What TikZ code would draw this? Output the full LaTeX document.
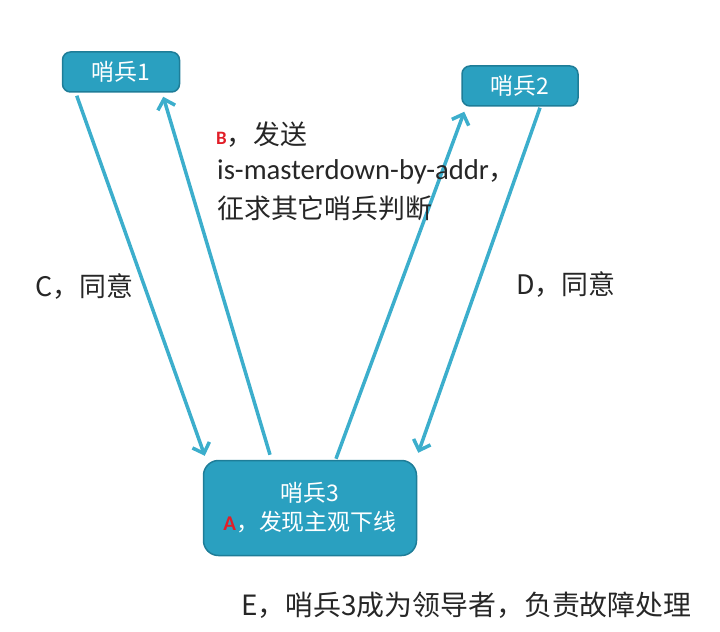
\documentclass[tikz,border=0pt]{standalone}
\usepackage{fontspec}
\setmainfont{Noto Sans CJK SC}
\newfontfamily\latfont{Carlito}
\usetikzlibrary{arrows.meta}

\definecolor{boxfill}{RGB}{42,160,192}
\definecolor{boxline}{RGB}{30,125,152}
\definecolor{linkcol}{RGB}{60,174,204}
\definecolor{mark}{RGB}{225,30,40}
\newcommand{\redmark}[2]{{\latfont\bfseries\fontsize{#2}{#2}\selectfont\color{mark}#1}}

\begin{document}
\begin{tikzpicture}[x=1bp, y=-1bp,
	sentinel/.style={draw=boxline, line width=1.5bp, fill=boxfill, text=white, inner sep=0pt, font=\fontsize{23}{29}\selectfont},
	link/.style={draw=linkcol, line width=3.5bp, -{Straight Barb[length=9bp, width=18bp]}},
	note/.style={anchor=west, inner sep=0pt, text=black!85, font=\fontsize{27}{30}\selectfont}]
	\useasboundingbox (0,0) rectangle (720,632);

	\node[sentinel, rounded corners=8bp, minimum width=117bp, minimum height=40bp] (s1) at (121,72) {哨兵1};
	\node[sentinel, rounded corners=8bp, minimum width=116bp, minimum height=40bp] (s2) at (520,86) {哨兵2};
	\node[sentinel, rounded corners=15bp, minimum width=213bp, minimum height=95bp, align=center] (s3) at (310,508) {哨兵3\\\redmark{A}{21}，发现主观下线};

	\draw[link] ([xshift=15bp, yshift=-3bp]s1.south west) -- ([xshift=2bp, yshift=4bp]s3.north west);
	\draw[link] ([xshift=-40bp, yshift=5bp]s3.north) -- ([xshift=-17bp, yshift=-4bp]s1.south east);
	\draw[link] ([xshift=26bp, yshift=1bp]s3.north) -- ([xshift=3bp, yshift=-5bp]s2.south west);
	\draw[link] ([xshift=20bp, yshift=-1bp]s2.south) -- ([xshift=1bp, yshift=7bp]s3.north east);

	\node[note] (sendb) at (216,135) {\redmark{B}{19}，发送};
	\node[note] (sendcmd) at (217,172) {{\latfont\fontsize{28.8}{30}\selectfont is-masterdown-by-addr}，};
	\node[note] (sendask) at (217,208) {征求其它哨兵判断};
	\node[note] (agreec) at (35,287) {C，同意};
	\node[note] (agreed) at (516,285) {D，同意};
	\node[note, font=\fontsize{28}{30}\selectfont] (leader) at (241,605) {E，哨兵3成为领导者，负责故障处理};
\end{tikzpicture}
\end{document}
